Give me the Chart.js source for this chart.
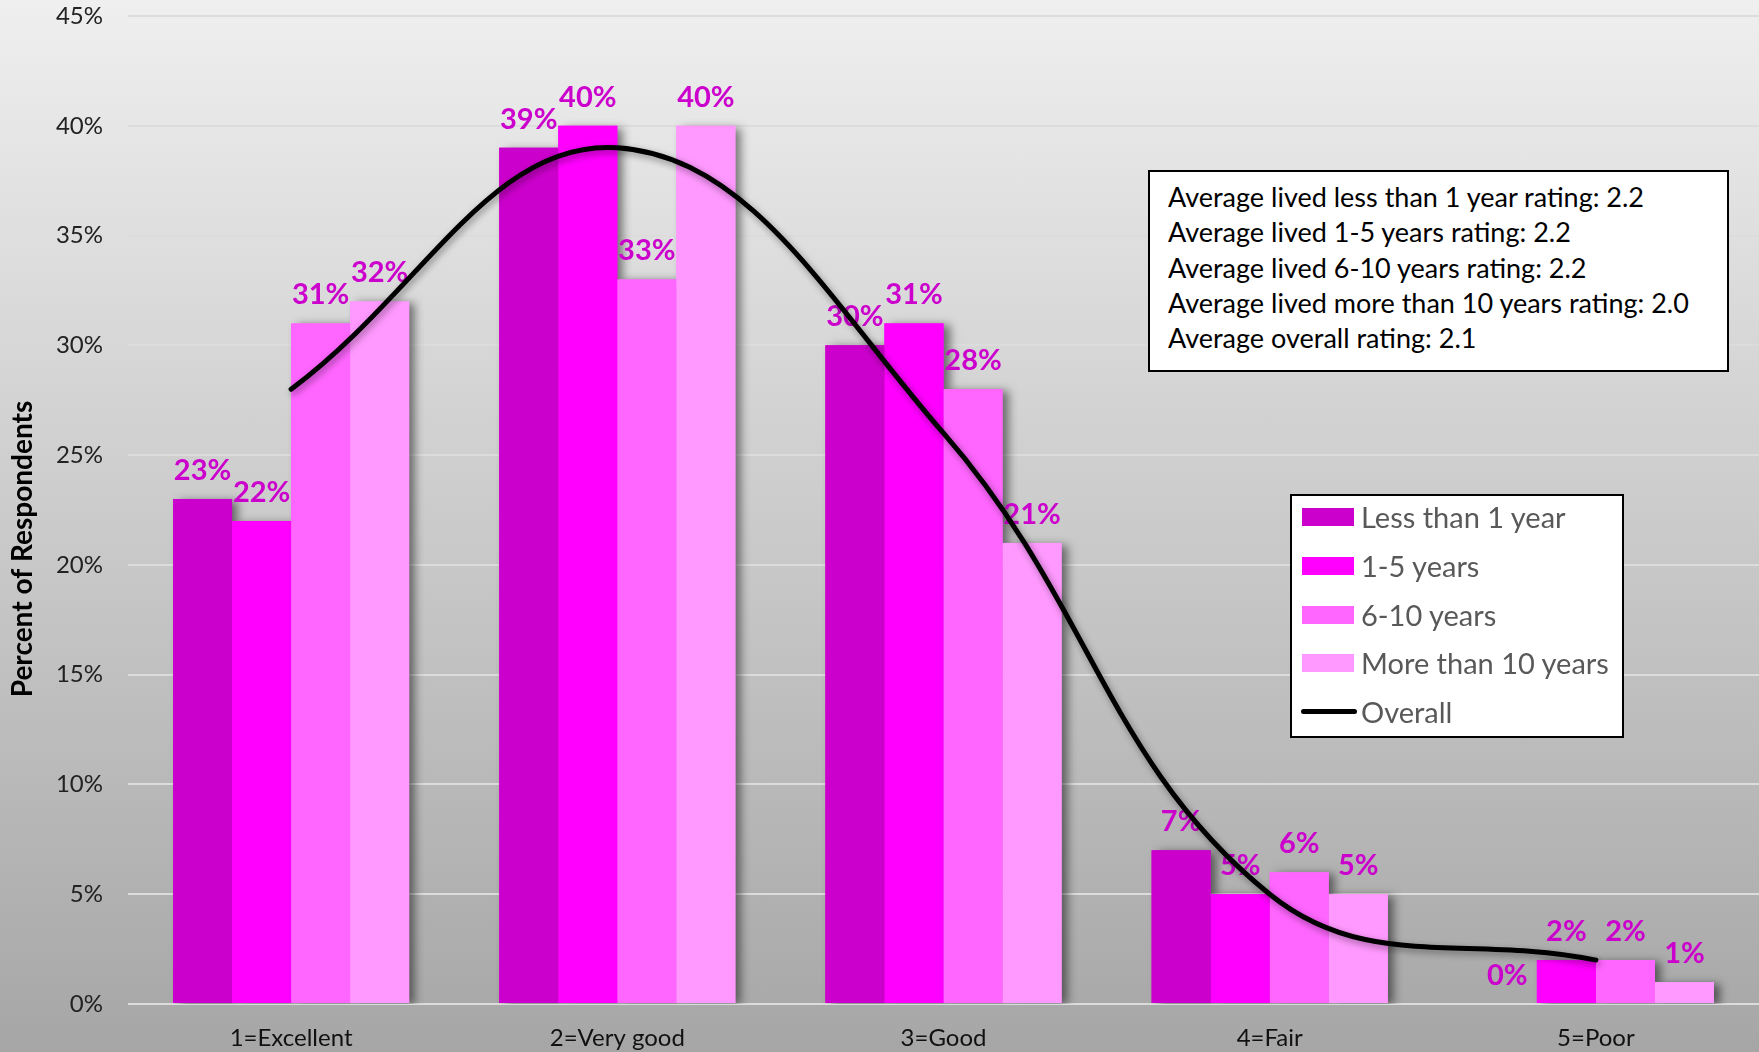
<!DOCTYPE html>
<html>
<head>
<meta charset="utf-8">
<script src="https://cdn.jsdelivr.net/npm/chart.js@4.4.1/dist/chart.umd.min.js"></script>
<style>
html, body { margin: 0; padding: 0; }
body {
    width: 1759px; height: 1052px; overflow: hidden; position: relative;
    background: linear-gradient(#efefef, #a6a6a6);
    font-family: Lato, sans-serif;
}
#chart { position: absolute; left: 0; top: 0; }
#stats {
    position: absolute; left: 1148px; top: 170px; width: 559px; height: 191px;
    background: #fff; border: 2px solid #000; padding: 7px 0 0 18px;
    font-size: 27px; line-height: 35.3px; color: #000; white-space: nowrap;
}
#legend {
    position: absolute; left: 1290px; top: 494px; width: 330px; height: 240px;
    background: #fff; border: 2px solid #000;
}
#legend .row {
    position: absolute; left: 0; height: 48px; line-height: 48px;
    font-size: 29px; color: #595959; white-space: nowrap;
}
#legend .swatch { position: absolute; left: 10px; top: 15px; width: 52px; height: 18px; }
#legend .stroke { position: absolute; left: 9px; top: 21px; width: 56px; height: 5px; border-radius: 3px; }
#legend .name { position: absolute; left: 69px; top: 0; }
</style>
</head>
<body>
<canvas id="chart" width="1759" height="1052"></canvas>
<div id="stats"></div>
<div id="legend"></div>
<script>
// categories and series (percent of respondents)
var categories = ['1=Excellent', '2=Very good', '3=Good', '4=Fair', '5=Poor'];
var lessThan1 = [23, 39, 30, 7, 0];
var years1to5 = [22, 40, 31, 5, 2];
var years6to10 = [31, 33, 28, 6, 2];
var moreThan10 = [32, 40, 21, 5, 1];
var overall = [28, 39, 26, 5, 2];
var yTicks = [0, 5, 10, 15, 20, 25, 30, 35, 40, 45];

var averages = [
    'Average lived less than 1 year rating: 2.2',
    'Average lived 1-5 years rating: 2.2',
    'Average lived 6-10 years rating: 2.2',
    'Average lived more than 10 years rating: 2.0',
    'Average overall rating: 2.1'
];

var ctx = document.getElementById('chart').getContext('2d');

// soft shadow behind the bars, drawn before the bars so only the
// part falling on the background stays visible
var barShadow = {
    id: 'barShadow',
    beforeDatasetsDraw: function(chart) {
        var c = chart.ctx, area = chart.chartArea;
        c.save();
        c.beginPath();
        c.rect(area.left, area.top, area.right - area.left + 20, area.bottom - area.top);
        c.clip();
        c.shadowColor = 'rgba(0,0,0,0.5)';
        c.shadowBlur = 9;
        c.shadowOffsetX = 6;
        c.shadowOffsetY = 2;
        chart.data.datasets.forEach(function(ds, i) {
            var meta = chart.getDatasetMeta(i);
            if (meta.type !== 'bar') return;
            c.fillStyle = ds.backgroundColor;
            meta.data.forEach(function(bar) {
                var p = bar.getProps(['x', 'y', 'base', 'width'], true);
                if (p.base - p.y > 0) c.fillRect(p.x - p.width / 2, p.y, p.width, p.base - p.y);
            });
        });
        c.restore();
    }
};

// value labels above bars (under the line) and shadow for the line
var valueLabels = {
    id: 'valueLabels',
    beforeDatasetDraw: function(chart, args) {
        if (args.meta.type !== 'line') return;
        var c = chart.ctx;
        c.save();
        c.font = 'bold 29px Lato';
        c.fillStyle = '#cc00cc';
        c.textAlign = 'center';
        c.textBaseline = 'alphabetic';
        chart.data.datasets.forEach(function(ds, i) {
            var meta = chart.getDatasetMeta(i);
            if (meta.type !== 'bar') return;
            meta.data.forEach(function(bar, j) {
                c.fillText(ds.data[j] + '%', bar.x, bar.y - 19);
            });
        });
        c.restore();

        c.save();
        c.shadowColor = 'rgba(0,0,0,0.4)';
        c.shadowBlur = 7;
        c.shadowOffsetX = 2;
        c.shadowOffsetY = 3;
    },
    afterDatasetDraw: function(chart, args) {
        if (args.meta.type === 'line') chart.ctx.restore();
    }
};

// rotated y axis title
var yTitle = {
    id: 'yTitle',
    afterDraw: function(chart) {
        var c = chart.ctx;
        c.save();
        c.translate(23, 549);
        c.rotate(-Math.PI / 2);
        c.font = 'bold 28px Lato';
        c.fillStyle = '#000';
        c.textAlign = 'center';
        c.textBaseline = 'middle';
        c.fillText('Percent of Respondents', 0, 0);
        c.restore();
    }
};

var chart = new Chart(ctx, {
    type: 'bar',
    data: {
        labels: categories,
        datasets: [
            { label: 'Less than 1 year', data: lessThan1, backgroundColor: '#cc00cc' },
            { label: '1-5 years', data: years1to5, backgroundColor: '#ff00ff' },
            { label: '6-10 years', data: years6to10, backgroundColor: '#ff66ff' },
            { label: 'More than 10 years', data: moreThan10, backgroundColor: '#ff99ff' },
            {
                type: 'line', label: 'Overall', data: overall, order: -1,
                borderColor: '#000', borderWidth: 5, pointRadius: 0,
                tension: 0.4, fill: false, borderCapStyle: 'round'
            }
        ]
    },
    options: {
        responsive: false,
        devicePixelRatio: 1,
        animation: false,
        layout: { padding: { top: 16, right: 0, bottom: 0, left: 0 } },
        datasets: { bar: { categoryPercentage: 0.724, barPercentage: 1.0, borderWidth: 0 } },
        plugins: { legend: { display: false }, tooltip: { enabled: false } },
        scales: {
            x: {
                grid: { display: false, drawTicks: false },
                border: { display: false },
                ticks: { font: { family: 'Lato', size: 24 }, color: '#111', padding: 20 },
                afterFit: function(s) { s.height = 48; s.paddingLeft = 0; s.paddingRight = 0; }
            },
            y: {
                min: yTicks[0], max: yTicks[yTicks.length - 1],
                afterBuildTicks: function(s) { s.ticks = yTicks.map(function(v) { return { value: v }; }); },
                ticks: {
                    font: { family: 'Lato', size: 24 }, color: '#222', padding: 25,
                    callback: function(v) { return v + '%'; }
                },
                grid: { color: '#dcdcdc', lineWidth: 2, drawTicks: false },
                border: { display: false },
                afterFit: function(s) { s.width = 128; s.paddingTop = 0; s.paddingBottom = 0; }
            }
        }
    },
    plugins: [barShadow, valueLabels, yTitle]
});

// averages box
var stats = document.getElementById('stats');
averages.forEach(function(t) {
    var d = document.createElement('div');
    d.textContent = t;
    stats.appendChild(d);
});

// legend built from the chart datasets
var legend = document.getElementById('legend');
chart.data.datasets.forEach(function(ds, i) {
    var row = document.createElement('div');
    row.className = 'row';
    row.style.top = (-3 + i * 48.75) + 'px';
    var mark = document.createElement('span');
    if (ds.type === 'line') {
        mark.className = 'stroke';
        mark.style.background = ds.borderColor;
    } else {
        mark.className = 'swatch';
        mark.style.background = ds.backgroundColor;
    }
    var name = document.createElement('span');
    name.className = 'name';
    name.textContent = ds.label;
    row.appendChild(mark);
    row.appendChild(name);
    legend.appendChild(row);
});
</script>
</body>
</html>
